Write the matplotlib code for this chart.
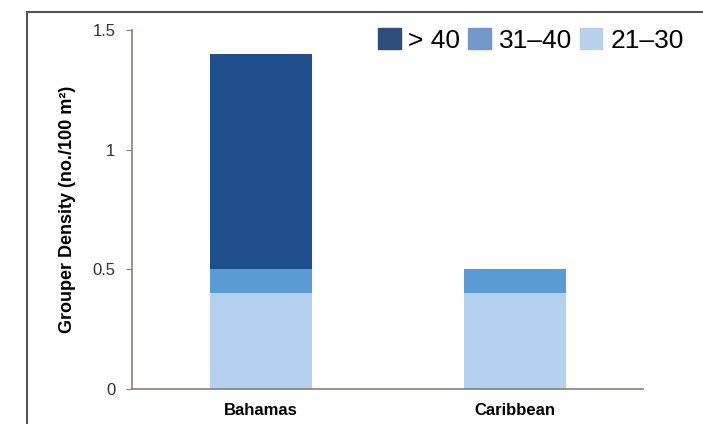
import matplotlib.pyplot as plt
from matplotlib.lines import Line2D
from matplotlib.patches import Patch

regions = ['Bahamas', 'Caribbean']
size_21_30 = [0.4, 0.4]
size_31_40 = [0.1, 0.1]
size_over_40 = [0.9, 0.0]
legend_labels = ['> 40', '31\u201340', '21\u201330']

bar_colors = ['#1f4f8c', '#5b9bd5', '#b3d1ee']
legend_colors = ['#2f4d7a', '#7398cb', '#b9d0ec']

plt.rcParams['font.family'] = ['Liberation Sans', 'DejaVu Sans']

fig = plt.figure(figsize=(7.03, 4.24), dpi=100)
ax = fig.add_axes([0.1878, 0.0825, 0.7269, 0.8467])

x = range(len(regions))
w = 0.40
ax.bar(x, size_21_30, w, color=bar_colors[2])
ax.bar(x, size_31_40, w, bottom=size_21_30, color=bar_colors[1])
bottoms = [a + b for a, b in zip(size_21_30, size_31_40)]
ax.bar(x, size_over_40, w, bottom=bottoms, color=bar_colors[0])

ax.set_xlim(-0.508, 1.504)
ax.set_ylim(0, 1.5)
ax.set_yticks([0, 0.5, 1, 1.5])
ax.set_yticklabels(['0', '0.5', '1', '1.5'])
ax.set_xticks(list(x))
ax.set_xticklabels(regions, fontsize=12, fontweight='bold')
ax.tick_params(axis='x', length=0, pad=10)
ax.tick_params(axis='y', length=4, color='#8a7f7a', labelsize=12,
               labelcolor='#333333', pad=8)
ax.set_ylabel('Grouper Density (no./100 m\u00b2)', fontsize=13,
              fontweight='bold', labelpad=12)

for s in ['top', 'right']:
    ax.spines[s].set_visible(False)
for s in ['left', 'bottom']:
    ax.spines[s].set_color('#8a7f7a')
    ax.spines[s].set_linewidth(1.2)

handles = [Patch(color=c) for c in legend_colors]
ax.legend(handles, legend_labels, ncol=3, frameon=False, fontsize=19,
          loc='upper right', bbox_to_anchor=(1.10, 1.035),
          handlelength=0.85, handleheight=0.85, handletextpad=0.3,
          columnspacing=0.3, borderaxespad=0)

# outer frame (left and top edges)
fig.add_artist(Line2D([27 / 703, 27 / 703], [0, 1 - 12 / 424],
                      transform=fig.transFigure, color='#555555', lw=1.5))
fig.add_artist(Line2D([27 / 703, 1], [1 - 12 / 424, 1 - 12 / 424],
                      transform=fig.transFigure, color='#555555', lw=1.5))

fig.savefig('out.png', dpi=100)
